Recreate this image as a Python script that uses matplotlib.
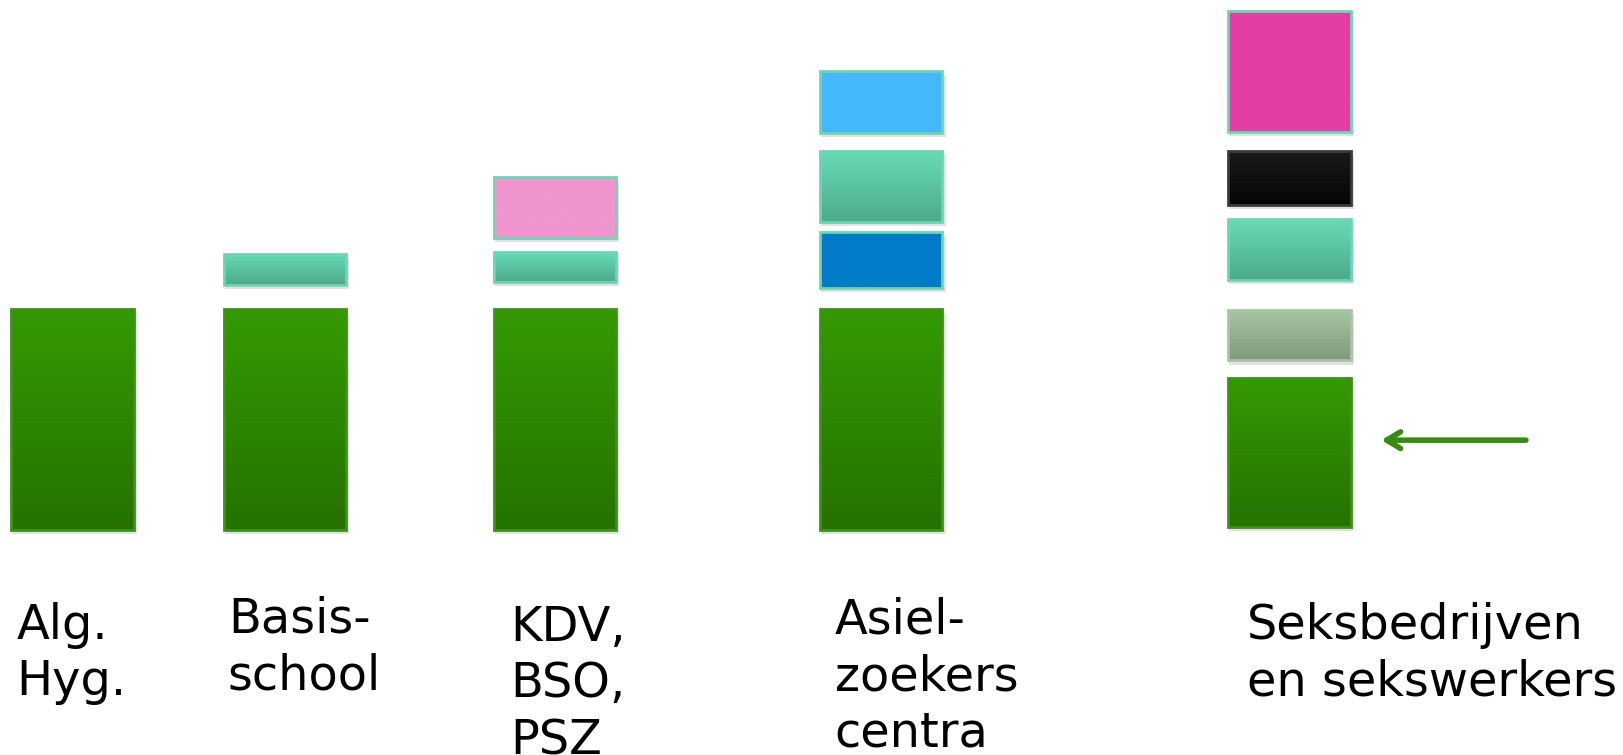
# Hygiëne-richtlijnen per setting: gestapelde blokken
import matplotlib
matplotlib.use("Agg")
import matplotlib.pyplot as plt
import numpy as np
from matplotlib.colors import LinearSegmentedColormap

# categorieën en hun horizontale positie
categories = ["Alg.\nHyg.", "Basis-\nschool", "KDV,\nBSO,\nPSZ",
              "Asiel-\nzoekers\ncentra", "Seksbedrijven\nen sekswerkers"]
cat_x = [70, 275, 536, 851, 1245]

# blokken: groep, onderkant, bovenkant, soort
block_group = [0, 1, 1, 2, 2, 2, 3, 3, 3, 3, 4, 4, 4, 4, 4]
block_bottom = [217, 217, 454, 217, 457, 499, 217, 451, 515, 601, 220, 381, 459, 531, 602]
block_top = [431, 431, 484, 431, 486, 558, 431, 505, 583, 660, 364, 430, 518, 583, 718]
block_kind = ["green", "green", "teal", "green", "teal", "pink", "green", "blue",
              "teal", "lightblue", "green", "sage", "teal", "black", "magenta"]

# kleuren (boven, onder, rand)
styles = {
    "green": ("#349a00", "#267200", "#3d9218"),
    "teal": ("#67dcb6", "#4eaa8b", "#6ed4b6"),
    "pink": ("#f095cd", "#f095cd", "#6ed4b6"),
    "blue": ("#027cc7", "#027cc7", "#6ed4b6"),
    "lightblue": ("#45b8fd", "#45b8fd", "#6ed4b6"),
    "sage": ("#a9c5a5", "#83977e", "#a9c5a5"),
    "black": ("#1a1a1a", "#050505", "#3a3a3a"),
    "magenta": ("#e43ea5", "#e43ea5", "#6ed4b6"),
}

bar_w = 118

fig = plt.figure(figsize=(16.24, 7.55), dpi=100)
ax = fig.add_axes([0, 0, 1, 1])
ax.set_xlim(0, 1568)
ax.set_ylim(0, 729)
ax.axis("off")

for g, b, t, k in zip(block_group, block_bottom, block_top, block_kind):
    top_c, bot_c, edge_c = styles[k]
    x = cat_x[g]
    # schaduw
    ax.bar(x + 2, t - b, width=bar_w + 2, bottom=b - 4, color="#c4c4c4",
           alpha=0.5, zorder=1)
    bars = ax.bar(x, t - b, width=bar_w, bottom=b, facecolor="none",
                  edgecolor=edge_c, linewidth=2, zorder=3)
    cmap = LinearSegmentedColormap.from_list(k, [bot_c, top_c])
    grad = np.linspace(0, 1, 64).reshape(-1, 1)
    im = ax.imshow(grad, cmap=cmap, aspect="auto", origin="lower",
                   extent=(x - bar_w / 2, x + bar_w / 2, b, t), zorder=2)
    im.set_clip_path(bars[0])

# pijl naar het groene blok van seksbedrijven
ax.annotate("", xy=(1331, 304), xytext=(1476, 304),
            arrowprops=dict(arrowstyle="->,head_length=1.0,head_width=0.6",
                            color="#3a8a12", linewidth=4))

# labels
label_pos = [(16, 148), (220, 154), (493, 146), (806, 153), (1204, 148)]
for (lx, ly), name in zip(label_pos, categories):
    ax.text(lx, ly, name, ha="left", va="top", fontsize=34.5,
            family="DejaVu Sans", color="black", linespacing=1.26)

fig.savefig("out.png", dpi=100)
